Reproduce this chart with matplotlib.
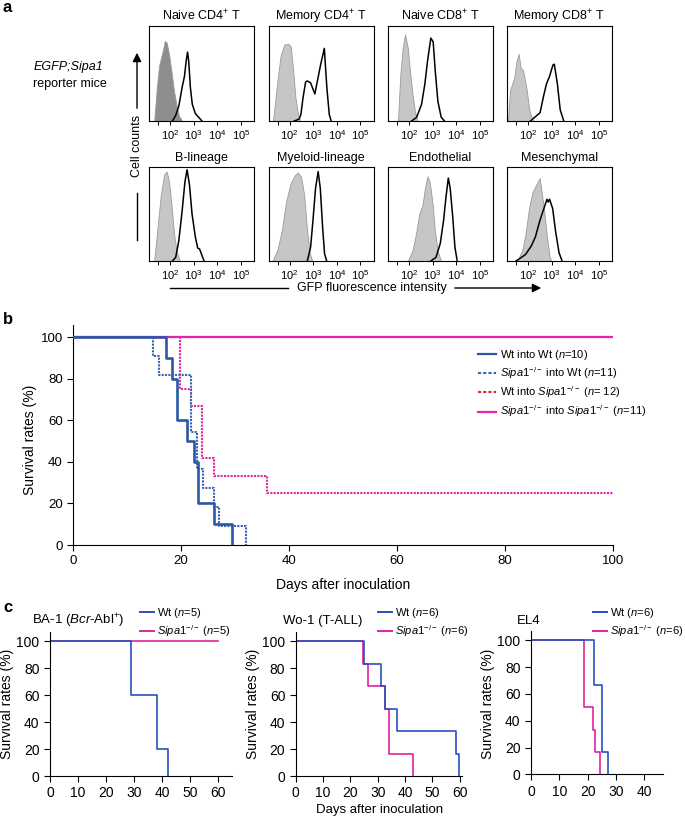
import matplotlib
matplotlib.use('Agg')
import matplotlib.pyplot as plt
from matplotlib.lines import Line2D

plt.rcParams['font.family'] = ['Liberation Sans', 'DejaVu Sans']
plt.rcParams['mathtext.fontset'] = 'custom'
plt.rcParams['mathtext.rm'] = 'Liberation Sans'
plt.rcParams['mathtext.it'] = 'Liberation Sans:italic'
plt.rcParams['mathtext.bf'] = 'Liberation Sans:bold'

# ---- данные панели a (гистограммы, x в декадах, y - доля высоты) ----
hist_titles = ['Naive CD4$^{+}$ T', 'Memory CD4$^{+}$ T', 'Naive CD8$^{+}$ T', 'Memory CD8$^{+}$ T',
               'B-lineage', 'Myeloid-lineage', 'Endothelial', 'Mesenchymal']
gray_x = [
    [1.33, 1.44, 1.54, 1.68, 1.78, 1.86, 1.96, 2.06, 2.17, 2.28, 2.37, 2.51],
    [1.30, 1.45, 1.62, 1.78, 1.95, 2.05, 2.15, 2.25, 2.35, 2.45],
    [1.53, 1.63, 1.73, 1.83, 1.95, 2.04, 2.15, 2.25, 2.36],
    [1.15, 1.24, 1.42, 1.51, 1.60, 1.69, 1.78, 1.93, 2.05, 2.18, 2.25],
    [1.33, 1.47, 1.61, 1.75, 1.86, 1.96, 2.06, 2.17, 2.28, 2.42],
    [1.31, 1.49, 1.67, 1.85, 2.04, 2.22, 2.36, 2.49, 2.62, 2.73, 2.85, 2.96],
    [1.96, 2.14, 2.29, 2.43, 2.57, 2.67, 2.78, 2.88, 3.00, 3.09, 3.21, 3.35],
    [1.50, 1.58, 1.76, 1.89, 2.04, 2.18, 2.31, 2.49, 2.58, 2.67, 2.80, 2.91, 2.98],
]
gray_y = [
    [0, 0.36, 0.60, 0.74, 0.86, 0.84, 0.71, 0.53, 0.32, 0.16, 0.06, 0],
    [0, 0.35, 0.70, 0.82, 0.83, 0.80, 0.55, 0.25, 0.08, 0],
    [0, 0.49, 0.78, 0.93, 0.78, 0.53, 0.28, 0.10, 0],
    [0, 0.33, 0.47, 0.64, 0.72, 0.57, 0.55, 0.36, 0.12, 0.02, 0],
    [0, 0.36, 0.72, 0.94, 0.97, 0.86, 0.61, 0.29, 0.10, 0],
    [0.02, 0.12, 0.33, 0.64, 0.84, 0.93, 0.96, 0.91, 0.71, 0.36, 0.09, 0],
    [0.01, 0.11, 0.29, 0.51, 0.61, 0.79, 0.92, 0.85, 0.61, 0.33, 0.11, 0],
    [0, 0.02, 0.12, 0.29, 0.57, 0.74, 0.81, 0.90, 0.74, 0.57, 0.26, 0.05, 0],
]
line_x = [
    [2.10, 2.24, 2.37, 2.51, 2.61, 2.68, 2.74, 2.79, 2.86, 2.94, 3.07, 3.35],
    [2.20, 2.40, 2.48, 2.57, 2.68, 2.75, 2.89, 3.07, 3.31, 3.47, 3.58, 3.68, 3.76],
    [2.11, 2.32, 2.53, 2.67, 2.78, 2.92, 3.02, 3.11, 3.22, 3.36, 3.50],
    [2.10, 2.33, 2.51, 2.65, 2.78, 2.91, 3.05, 3.11, 3.24, 3.36, 3.51],
    [2.10, 2.24, 2.37, 2.51, 2.63, 2.72, 2.82, 2.93, 3.07, 3.17, 3.25, 3.35, 3.44],
    [2.75, 2.89, 2.99, 3.10, 3.21, 3.30, 3.40, 3.48, 3.57],
    [2.92, 3.14, 3.32, 3.46, 3.56, 3.66, 3.74, 3.85, 3.94, 4.03],
    [1.49, 1.67, 1.89, 2.13, 2.31, 2.49, 2.67, 2.80, 2.85, 2.91, 3.04, 3.16, 3.31, 3.44],
]
line_y = [
    [0, 0.06, 0.16, 0.36, 0.48, 0.64, 0.74, 0.64, 0.36, 0.18, 0.08, 0],
    [0, 0.02, 0.07, 0.25, 0.42, 0.43, 0.41, 0.29, 0.60, 0.78, 0.35, 0.07, 0],
    [0, 0.04, 0.18, 0.40, 0.64, 0.89, 0.85, 0.53, 0.21, 0.04, 0],
    [0, 0.05, 0.09, 0.26, 0.40, 0.48, 0.60, 0.61, 0.40, 0.12, 0],
    [0, 0.04, 0.22, 0.54, 0.86, 0.99, 0.83, 0.51, 0.26, 0.14, 0.13, 0.06, 0],
    [0, 0.15, 0.44, 0.79, 0.97, 0.79, 0.36, 0.08, 0],
    [0, 0.04, 0.19, 0.44, 0.69, 0.90, 0.79, 0.47, 0.15, 0.01],
    [0, 0.03, 0.07, 0.16, 0.26, 0.43, 0.57, 0.67, 0.64, 0.67, 0.57, 0.33, 0.09, 0],
]
hist_ticks = [1.5, 2, 3, 4, 5]
hist_ticklabels = ['', '$10^{2}$', '$10^{3}$', '$10^{4}$', '$10^{5}$']

# ---- данные панели b ----
wt_wt_t = [0, 17.2, 18.3, 19.2, 21.0, 22.3, 23.1, 26.1, 29.4]
wt_wt_s = [100, 90, 80, 60, 50, 40, 20, 10, 0]
ko_wt_t = [0, 14.8, 15.8, 21.9, 22.9, 24.0, 26.1, 27.0, 32.0]
ko_wt_s = [100, 90.9, 81.8, 54.5, 36.4, 27.3, 18.2, 9.1, 0]
wt_ko_t = [0, 19.7, 21.9, 23.8, 26.1, 36.0, 100]
wt_ko_s = [100, 75, 66.7, 41.7, 33.3, 25, 25]
ko_ko_t = [0, 100]
ko_ko_s = [100, 100]
b_labels = ['Wt into Wt ($n$=10)', r'$\mathit{Sipa1}^{-/-}$ into Wt ($n$=11)',
            r'Wt into $\mathit{Sipa1}^{-/-}$ ($n$= 12)',
            r'$\mathit{Sipa1}^{-/-}$ into $\mathit{Sipa1}^{-/-}$ ($n$=11)']

# ---- данные панели c ----
c_titles = [r'BA-1 ($\mathit{Bcr}$-Abl$^{+}$)', 'Wo-1 (T-ALL)', 'EL4']
c_n = [5, 6, 6]
c_wt_t = [[0, 29, 38, 42.2], [0, 25.1, 31.0, 32.8, 37.2, 58.5, 59.7], [0, 22.4, 25.2, 27.2]]
c_wt_s = [[100, 60, 20, 0], [100, 83.3, 66.7, 50, 33.3, 16.7, 0], [100, 66.7, 16.7, 0]]
c_ko_t = [[0, 60], [0, 24.7, 26.3, 32.6, 34.1, 42.9], [0, 18.8, 21.8, 22.6, 24.4]]
c_ko_s = [[100, 100], [100, 83.3, 66.7, 50, 16.7, 0], [100, 50, 33.3, 16.7, 0]]
c_xticks = [[0, 10, 20, 30, 40, 50, 60], [0, 10, 20, 30, 40, 50, 60], [0, 10, 20, 30, 40]]

W, H = 685, 816
fig = plt.figure(figsize=(W / 100, H / 100), dpi=100)


def px_axes(left, top, right, bottom):
    return fig.add_axes([left / W, 1 - bottom / H, (right - left) / W, (bottom - top) / H])


# слой для подписей и стрелок в пикселях
ov = fig.add_axes([0, 0, 1, 1], zorder=-1)
ov.set_xlim(0, W)
ov.set_ylim(H, 0)
ov.axis('off')

# ---- панель a ----
cols = [149, 268.5, 388, 507]
rows = [(26, 121), (167, 261)]
for i in range(8):
    r, c = i // 4, i % 4
    ax = px_axes(cols[c], rows[r][0], cols[c] + 105, rows[r][1])
    fc = '#8e8e8e' if i == 0 else '#c6c6c6'
    ax.fill_between(gray_x[i], gray_y[i], color=fc, edgecolor='#9a9a9a', lw=0.6)
    ax.plot(line_x[i], line_y[i], color='black', lw=1.1)
    ax.set_xlim(1.11, 5.55)
    ax.set_ylim(0, 1.02)
    ax.set_yticks([])
    ax.set_xticks(hist_ticks)
    ax.set_xticklabels(hist_ticklabels)
    ax.tick_params(axis='x', direction='out', length=3, width=0.7, labelsize=8, pad=2)
    for s in ax.spines.values():
        s.set_linewidth(0.8)
    ax.set_title(hist_titles[i], fontsize=9, pad=4)

ov.text(3, 7, 'a', fontsize=12, fontweight='bold', va='center', ha='left')
ov.text(68, 67, 'EGFP;Sipa1', fontsize=9, style='italic', ha='center', va='center')
ov.text(70, 84, 'reporter mice', fontsize=9, ha='center', va='center')
ov.annotate('', xy=(137, 50), xytext=(137, 111),
            arrowprops=dict(arrowstyle='-|>', color='black', lw=1, mutation_scale=13))
ov.text(137, 146, 'Cell counts', fontsize=9, rotation=90, ha='center', va='center')
ov.plot([137, 137], [193, 240], color='black', lw=1)
ov.plot([170, 288], [288, 288], color='black', lw=1)
ov.text(372, 288, 'GFP fluorescence intensity', fontsize=9, ha='center', va='center')
ov.annotate('', xy=(544, 288), xytext=(452, 288),
            arrowprops=dict(arrowstyle='-|>', color='black', lw=1, mutation_scale=13))

# ---- панель b ----
blue_b = '#2b57a6'
mag_b = '#e524b4'
axb = px_axes(73.3, 325, 612.7, 545)
axb.step(ko_ko_t, ko_ko_s, where='post', color=mag_b, lw=1.6, zorder=2)
axb.step(wt_ko_t, wt_ko_s, where='post', color='#e0279f', lw=1.5, ls=(0, (1, 0.6)), zorder=3)
axb.step(ko_wt_t, ko_wt_s, where='post', color='#3a63b3', lw=1.5, ls=(0, (1, 0.6)), zorder=4)
axb.step(wt_wt_t, wt_wt_s, where='post', color=blue_b, lw=1.9, zorder=5)
axb.set_xlim(0, 100)
axb.set_ylim(0, 105.9)
axb.set_xticks([0, 20, 40, 60, 80, 100])
axb.set_yticks([0, 20, 40, 60, 80, 100])
axb.spines['top'].set_visible(False)
axb.spines['right'].set_visible(False)
axb.tick_params(direction='out', length=4, width=0.8, labelsize=9.5)
b_handles = [Line2D([], [], color=blue_b, lw=1.6),
             Line2D([], [], color='#3a63b3', lw=1.5, ls=(0, (1.5, 1))),
             Line2D([], [], color='#d42a2a', lw=1.5, ls=(0, (1.5, 1))),
             Line2D([], [], color=mag_b, lw=1.6)]
axb.legend(b_handles, b_labels, loc='upper left', bbox_to_anchor=(478 / W, 1 - 348 / H),
           bbox_transform=fig.transFigure, frameon=False, fontsize=8, handlelength=1.6,
           handletextpad=0.4, labelspacing=0.3, borderpad=0, borderaxespad=0)
ov.text(3, 320, 'b', fontsize=12, fontweight='bold', va='center', ha='left')
ov.text(30, 440, 'Survival rates (%)', fontsize=10, rotation=90, ha='center', va='center')
ov.text(343, 585, 'Days after inoculation', fontsize=10, ha='center', va='center')

# ---- панель c ----
blue_c = '#2a50c0'
mag_c = '#e2229e'
c_boxes = [(50, 632, 232.4, 776), (295.7, 632, 461.5, 776), (531, 631, 663, 774.3)]
c_xlim = [65, 60.6, 46.6]
c_title_x = [32, 283, 517]
c_leg_x = [140, 378, 593]
c_ylab_x = [7, 253, 488]
for k in range(3):
    l, t, r, b = c_boxes[k]
    ax = px_axes(l, t, r, b)
    ax.step(c_ko_t[k], c_ko_s[k], where='post', color=mag_c, lw=1.2)
    ax.step(c_wt_t[k], c_wt_s[k], where='post', color=blue_c, lw=1.2)
    ax.set_xlim(0, c_xlim[k])
    ax.set_ylim(0, 107)
    ax.set_xticks(c_xticks[k])
    ax.set_yticks([0, 20, 40, 60, 80, 100])
    ax.spines['top'].set_visible(False)
    ax.spines['right'].set_visible(False)
    ax.tick_params(direction='out', length=4, width=0.8, labelsize=10)
    ov.text(c_title_x[k], 621, c_titles[k], fontsize=9.5, ha='left', va='center')
    ov.text(c_ylab_x[k], 704, 'Survival rates (%)', fontsize=10, rotation=90, ha='center', va='center')
    hh = [Line2D([], [], color=blue_c, lw=1.4), Line2D([], [], color=mag_c, lw=1.4)]
    ll = ['Wt ($n$=%d)' % c_n[k], r'$\mathit{Sipa1}^{-/-}$ ($n$=%d)' % c_n[k]]
    ax.legend(hh, ll, loc='upper left', bbox_to_anchor=(c_leg_x[k] / W, 1 - 606 / H),
              bbox_transform=fig.transFigure, frameon=False, fontsize=8, handlelength=1.3,
              handletextpad=0.2, labelspacing=0.3, borderpad=0, borderaxespad=0)

ov.text(3, 608, 'c', fontsize=12, fontweight='bold', va='center', ha='left')
ov.text(380, 809.5, 'Days after inoculation', fontsize=9.5, ha='center', va='center')

fig.savefig('out.png', dpi=100)
